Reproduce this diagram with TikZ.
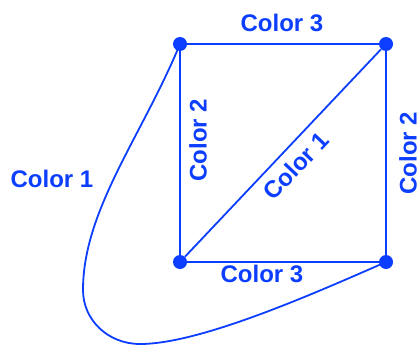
\documentclass[tikz,border=0pt]{standalone}
\usepackage{fontspec}
\setmainfont{Liberation Sans}
\definecolor{gblue}{RGB}{12,62,255}
\tikzset{
  vert/.style={circle,fill=gblue,draw=none,minimum size=14pt,inner sep=0pt},
  edge/.style={draw=gblue,line width=1.8pt},
  lbl/.style={text=gblue,font=\fontsize{24}{28}\selectfont\bfseries,inner sep=0pt}
}
\begin{document}
\begin{tikzpicture}[x=1pt,y=-1pt]
\useasboundingbox (0,0) rectangle (419,345);
\node[vert] (a) at (180,44) {};
\node[vert] (b) at (386,44) {};
\node[vert] (c) at (180,262) {};
\node[vert] (d) at (386,262) {};
\coordinate (l) at (83,290);
\coordinate (m) at (140,344);
\draw[edge] (a) -- (b);
\draw[edge] (a) -- (c);
\draw[edge] (b) -- (d);
\draw[edge] (c) -- (d);
\draw[edge] (c) -- (b);
\draw[edge] (a.center) .. controls (142,136) and (83,210) .. (l)
  .. controls (83,320) and (108,344) .. (m)
  .. controls (200,344) and (313,294) .. (d.center);
\node[lbl] (t3) at (282,22.5) {Color 3};
\node[lbl] (b3) at (262,274) {Color 3};
\node[lbl] (l1) at (52,179) {Color 1};
\node[lbl,rotate=90] (l2) at (198,140) {Color 2};
\node[lbl,rotate=90] (r2) at (408,153) {Color 2};
\node[lbl,rotate=46.6] (d1) at (296,166) {Color 1};
\end{tikzpicture}
\end{document}
